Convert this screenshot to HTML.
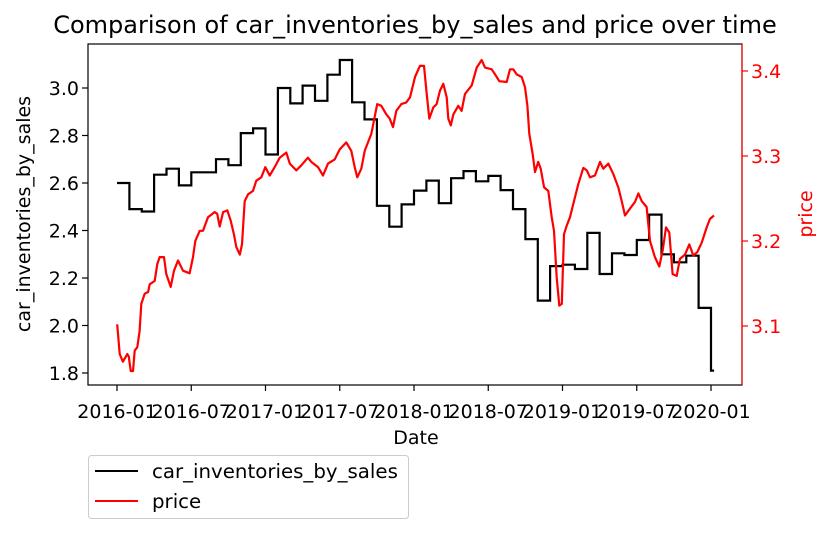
<!DOCTYPE html>
<html><head><meta charset="utf-8"><style>
body{margin:0;background:#fff;}
svg{display:block;font-family:"DejaVu Sans","Liberation Sans",sans-serif;}
</style></head><body>
<svg id="chart" width="830" height="534" viewBox="0 0 830 534">
<text x="415" y="33" font-size="24" text-anchor="middle">Comparison of car_inventories_by_sales and price over time</text>
<g id="plot"></g>
<rect x="88" y="44" width="654" height="341" fill="none" stroke="#000" stroke-width="1.2"/>
<line x1="742" y1="44" x2="742" y2="385" stroke="red" stroke-width="1.2"/>
<g id="xticks"></g><g id="lticks"></g><g id="rticks"></g>
<text x="416" y="444" font-size="19" text-anchor="middle">Date</text>
<text transform="translate(30,214) rotate(-90)" font-size="19" text-anchor="middle">car_inventories_by_sales</text>
<text transform="translate(812,214) rotate(-90)" font-size="19" text-anchor="middle" fill="red">price</text>
<g>
<rect x="88.5" y="455.5" width="320" height="63" rx="3" fill="#fff" stroke="#ccc"/>
<line x1="95" y1="471" x2="138" y2="471" stroke="#000" stroke-width="2"/>
<text x="152" y="478" font-size="19.8">car_inventories_by_sales</text>
<line x1="95" y1="501" x2="138" y2="501" stroke="red" stroke-width="2"/>
<text x="152" y="508" font-size="19.8">price</text>
</g>
</svg>
<script>
// months since 2016-01
const invValues=[2.60,2.49,2.48,2.635,2.66,2.59,2.645,2.645,2.70,2.675,2.81,2.83,2.72,3.00,2.935,3.01,2.946,3.056,3.118,2.94,2.868,2.504,2.416,2.51,2.568,2.61,2.515,2.62,2.65,2.607,2.63,2.57,2.49,2.364,2.105,2.25,2.256,2.238,2.39,2.217,2.304,2.297,2.36,2.467,2.30,2.266,2.294,2.074,1.81];
const priceMonths=[0.02,0.22,0.48,0.83,0.95,1.11,1.29,1.43,1.64,1.83,1.96,2.24,2.51,2.64,3.05,3.26,3.45,3.80,3.98,4.34,4.61,4.93,5.33,5.87,6.14,6.33,6.68,6.95,7.35,7.89,8.10,8.30,8.57,8.91,9.19,9.45,9.64,9.92,10.10,10.32,10.59,10.99,11.26,11.66,11.98,12.34,12.74,13.15,13.68,13.96,14.49,14.89,15.43,15.70,16.24,16.65,17.05,17.59,18.00,18.53,18.93,19.21,19.42,19.74,20.02,20.55,20.77,21.03,21.36,21.76,22.04,22.30,22.57,22.97,23.38,23.68,24.08,24.48,24.81,25.03,25.24,25.56,25.83,26.10,26.37,26.64,26.77,26.97,27.18,27.58,27.85,28.12,28.66,29.07,29.47,29.74,30.28,30.55,30.89,31.49,31.76,32.02,32.30,32.70,32.97,33.16,33.32,33.59,33.78,34.04,34.24,34.51,34.85,35.13,35.31,35.53,35.74,35.94,36.12,36.34,36.61,36.93,37.28,37.68,37.96,38.22,38.63,39.03,39.30,39.70,40.10,40.51,40.78,41.05,41.45,41.86,42.13,42.40,42.80,43.07,43.47,43.82,44.10,44.36,44.63,44.90,45.23,45.49,45.90,46.25,46.57,46.89,47.25,47.65,47.92,48.24];
const priceValues=[3.102,3.067,3.058,3.067,3.064,3.047,3.047,3.071,3.075,3.094,3.126,3.138,3.140,3.149,3.153,3.173,3.181,3.181,3.161,3.146,3.165,3.177,3.165,3.162,3.181,3.200,3.212,3.212,3.228,3.234,3.232,3.217,3.234,3.236,3.224,3.208,3.193,3.184,3.196,3.247,3.255,3.259,3.271,3.275,3.287,3.277,3.287,3.298,3.304,3.291,3.283,3.289,3.298,3.293,3.287,3.277,3.291,3.296,3.308,3.316,3.306,3.287,3.275,3.285,3.306,3.326,3.342,3.361,3.359,3.349,3.344,3.334,3.353,3.361,3.363,3.369,3.393,3.406,3.406,3.373,3.344,3.357,3.361,3.377,3.385,3.369,3.344,3.336,3.349,3.359,3.353,3.373,3.383,3.404,3.413,3.404,3.402,3.396,3.388,3.387,3.402,3.402,3.396,3.393,3.381,3.359,3.326,3.302,3.281,3.293,3.285,3.263,3.259,3.228,3.212,3.157,3.124,3.126,3.208,3.218,3.228,3.247,3.267,3.286,3.283,3.275,3.277,3.293,3.285,3.291,3.279,3.263,3.247,3.230,3.238,3.246,3.256,3.247,3.240,3.200,3.181,3.170,3.189,3.216,3.210,3.161,3.159,3.179,3.184,3.196,3.183,3.187,3.198,3.216,3.226,3.230];
const xTickMonths=[0,6,12,18,24,30,36,42,48];
const xTickLabels=["2016-01","2016-07","2017-01","2017-07","2018-01","2018-07","2019-01","2019-07","2020-01"];
const leftTicks=[1.8,2.0,2.2,2.4,2.6,2.8,3.0];
const rightTicks=[3.1,3.2,3.3,3.4];

const NS="http://www.w3.org/2000/svg";
const xS=m=>117+m*12.375;
const yL=v=>88+(3.0-v)*237.5;
const yR=v=>71+(3.4-v)*850;
function mk(tag,attrs,parent){const e=document.createElementNS(NS,tag);for(const k in attrs)e.setAttribute(k,attrs[k]);parent.appendChild(e);return e;}
const plot=document.getElementById('plot');
let d="";
invValues.forEach((v,i)=>{const x0=xS(i),x1=xS(i===invValues.length-1?i+0.25:i+1),y=yL(v);d+=(i===0?"M":"L")+x0.toFixed(1)+","+y.toFixed(1)+"L"+x1.toFixed(1)+","+y.toFixed(1);});
const inv=mk('path',{d:d,fill:'none',stroke:'#000','stroke-width':2.2},plot);


let pd="";
priceValues.forEach((v,i)=>{pd+=(i?"L":"M")+xS(priceMonths[i]).toFixed(1)+","+yR(v).toFixed(1);});
const pr=mk('path',{d:pd,fill:'none',stroke:'red','stroke-width':2.2,'stroke-linejoin':'round'},plot);


const xt=document.getElementById('xticks');
xTickMonths.forEach((m,i)=>{const x=xS(m);
const l=mk('line',{x1:x,y1:385,x2:x,y2:391,stroke:'#000','stroke-width':1.2},xt);


const t=mk('text',{x:x,y:418,'font-size':19,'text-anchor':'middle'},xt);t.textContent=xTickLabels[i];

});
const lt=document.getElementById('lticks');
leftTicks.forEach(v=>{const y=yL(v);
const l=mk('line',{x1:82,y1:y,x2:88,y2:y,stroke:'#000','stroke-width':1.2},lt);


const t=mk('text',{x:79,y:y+7,'font-size':19,'text-anchor':'end'},lt);t.textContent=v.toFixed(1);

});
const rt=document.getElementById('rticks');
rightTicks.forEach(v=>{const y=yR(v);
const l=mk('line',{x1:742,y1:y,x2:748,y2:y,stroke:'red','stroke-width':1.2},rt);


const t=mk('text',{x:751,y:y+7,'font-size':19,fill:'red'},rt);t.textContent=v.toFixed(1);

});
</script>
</body></html>
